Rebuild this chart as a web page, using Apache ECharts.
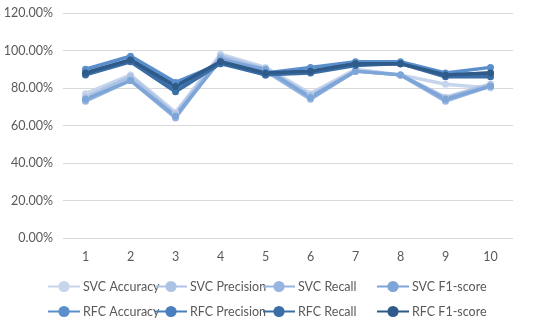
<!DOCTYPE html>
<html><head><meta charset="utf-8">
<script src="https://cdn.jsdelivr.net/npm/echarts@6/dist/echarts.min.js"></script>
<style>html,body{margin:0;padding:0;background:#fff}#c{width:550px;height:325px}</style>
</head><body><div id="c"></div>
<script>
const categories = ['1','2','3','4','5','6','7','8','9','10'];
const seriesNames = ['SVC Accuracy','SVC Precision','SVC Recall','SVC F1-score','RFC Accuracy','RFC Precision','RFC Recall','RFC F1-score'];
const svcAccuracy  = [77, 87, 67, 98, 91, 77, 90, 87, 82, 80];
const svcPrecision = [75, 86, 66, 97, 90, 76, 89, 87, 75, 82];
const svcRecall    = [73, 84, 64, 96, 89, 74, 89, 87, 73, 81];
const svcF1        = [74, 84, 65, 95, 90, 75, 89, 87, 74, 81];
const rfcAccuracy  = [90, 97, 83, 93, 88, 91, 94, 94, 88, 91];
const rfcPrecision = [88, 95, 80, 94, 87, 89, 93, 93, 87, 88];
const rfcRecall    = [87, 94, 78, 93, 87, 88, 92, 93, 86, 86];
const rfcF1        = [88, 95, 81, 94, 88, 89, 93, 93, 87, 88];
const yTicks = [0, 20, 40, 60, 80, 100, 120];
const allData = [svcAccuracy, svcPrecision, svcRecall, svcF1, rfcAccuracy, rfcPrecision, rfcRecall, rfcF1];
const colors = ['#c6d5ec','#adc3e4','#97b5e0','#7ea5d8','#5b8fcc','#4a7fbd','#3c6ea6','#2f5b8a'];
const font = 'Lato';
const legendPos = [[47,280],[154,280],[262,280],[376,280],[47,305],[154,305],[262,305],[376,305]];

const chart = echarts.init(document.getElementById('c'));
chart.setOption({
  animation: false,
  color: colors,
  grid: {left: 63, right: 37, top: 13, bottom: 87},
  legend: seriesNames.map((n, i) => ({
    data: [n], left: legendPos[i][0], top: legendPos[i][1], padding: 0,
    itemWidth: 32, itemHeight: 14, itemGap: 2,
    textStyle: {color: '#595959', fontSize: 12.5, fontFamily: font, padding: [0,0,0,-2]}
  })),
  xAxis: {
    type: 'category', data: categories, boundaryGap: true,
    axisLine: {show: false}, axisTick: {show: false},
    axisLabel: {color: '#595959', fontSize: 12.5, fontFamily: font, margin: 12}
  },
  yAxis: {
    type: 'value', min: yTicks[0], max: yTicks[yTicks.length-1], interval: 20,
    axisLine: {show: false}, axisTick: {show: false},
    axisLabel: {color: '#595959', fontSize: 12.5, fontFamily: font, margin: 10,
      formatter: v => v.toFixed(2) + '%'},
    splitLine: {lineStyle: {color: '#d9d9d9', width: 1}}
  },
  series: seriesNames.map((n, i) => ({
    name: n, type: 'line', data: allData[i],
    symbol: 'circle', symbolSize: 7,
    lineStyle: {width: 3.5, color: colors[i]},
    itemStyle: {color: colors[i]}
  }))
});
</script></body></html>
